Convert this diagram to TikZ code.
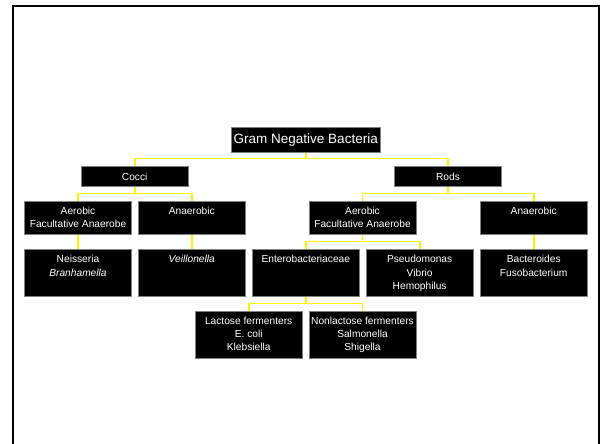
\documentclass[tikz,border=0pt]{standalone}
\usepackage{fontspec}
\setmainfont{Liberation Sans}
\definecolor{boxgray}{HTML}{808080}
\begin{document}
\begin{tikzpicture}[x=1bp,y=-1bp,
  box/.style={draw=boxgray, line width=1bp, fill=black, inner sep=0pt, minimum width=107bp, anchor=north},
  txt/.style={text=white, inner sep=0pt, align=center, anchor=north, font=\fontsize{10.2bp}{13.6bp}\selectfont},
  conn/.style={draw=yellow, line width=1.8bp}]
\useasboundingbox (0,0) rectangle (602,444);
\begin{scope}
  \clip (0,0) rectangle (602,444);
  \draw[line width=2bp] (13,450) -- (13,6) -- (598.7,6) -- (598.7,450);
\end{scope}

% bus levels
\coordinate (bus0) at (305.75,158.5);
\coordinate (bus1) at (134.7,193.5);
\coordinate (bus2) at (448,193.5);
\coordinate (bus3) at (362.5,241.5);
\coordinate (bus4) at (305.8,303.5);

% level 0
\node[box, minimum width=148.5bp, minimum height=24.5bp, text=white, font=\fontsize{13.5bp}{16bp}\selectfont] (root) at (305.75,127.5) {Gram Negative Bacteria};
% level 1
\node[box, minimum height=20bp, text=white, font=\fontsize{10.2bp}{13.6bp}\selectfont] (cocci) at (134.7,166) {Cocci};
\node[box, minimum height=20bp, text=white, font=\fontsize{10.2bp}{13.6bp}\selectfont] (rods) at (448,166) {Rods};
% level 2
\node[box, minimum height=33.4bp] (a1) at (78,200.8) {};
\node[txt] (a1t) at ([yshift=-6bp]a1.north) {Aerobic\\Facultative Anaerobe};
\node[box, minimum height=33.4bp] (a2) at (191.75,200.8) {};
\node[txt] (a2t) at ([yshift=-6bp]a2.north) {Anaerobic};
\node[box, minimum height=33.4bp] (a3) at (362.5,200.8) {};
\node[txt] (a3t) at ([yshift=-6bp]a3.north) {Aerobic\\Facultative Anaerobe};
\node[box, minimum height=33.4bp] (a4) at (533.7,200.8) {};
\node[txt] (a4t) at ([yshift=-6bp]a4.north) {Anaerobic};
% level 3
\node[box, minimum height=47bp] (b1) at (78,249.2) {};
\node[txt] (b1t) at ([yshift=-5.8bp]b1.north) {Neisseria\\\itshape Branhamella};
\node[box, minimum height=47bp] (b2) at (191.75,249.2) {};
\node[txt] (b2t) at ([yshift=-5.8bp]b2.north) {\itshape Veillonella};
\node[box, minimum height=47bp] (b3) at (305.8,249.2) {};
\node[txt] (b3t) at ([yshift=-5.8bp]b3.north) {Enterobacteriaceae};
\node[box, minimum height=47bp] (b4) at (419.65,249.2) {};
\node[txt] (b4t) at ([yshift=-5.8bp]b4.north) {Pseudomonas\\Vibrio\\Hemophilus};
\node[box, minimum height=47bp] (b5) at (533.7,249.2) {};
\node[txt] (b5t) at ([yshift=-5.8bp]b5.north) {Bacteroides\\Fusobacterium};
% level 4
\node[box, minimum height=47bp] (c1) at (248.7,311) {};
\node[txt, font=\fontsize{10.2bp}{13.2bp}\selectfont] (c1t) at ([yshift=-6bp]c1.north) {Lactose fermenters\\E. coli\\Klebsiella};
\node[box, minimum height=47bp] (c2) at (362.5,311) {};
\node[txt, font=\fontsize{10.2bp}{13.2bp}\selectfont] (c2t) at ([yshift=-6bp]c2.north) {Nonlactose fermenters\\Salmonella\\Shigella};

% connectors
\draw[conn] (root.south) -- (root.south |- bus0) -| (cocci.north);
\draw[conn] (root.south |- bus0) -| (rods.north);
\draw[conn] (cocci.south) -- (cocci.south |- bus1) -| (a1.north);
\draw[conn] (cocci.south |- bus1) -| (a2.north);
\draw[conn] (rods.south) -- (rods.south |- bus2) -| (a3.north);
\draw[conn] (rods.south |- bus2) -| (a4.north);
\draw[conn] (a1.south) -- (b1.north);
\draw[conn] (a2.south) -- (b2.north);
\draw[conn] (a4.south) -- (b5.north);
\draw[conn] (a3.south) -- (a3.south |- bus3) -| (b3.north);
\draw[conn] (a3.south |- bus3) -| (b4.north);
\draw[conn] (b3.south) -- (b3.south |- bus4) -| (c1.north);
\draw[conn] (b3.south |- bus4) -| (c2.north);
\end{tikzpicture}
\end{document}
